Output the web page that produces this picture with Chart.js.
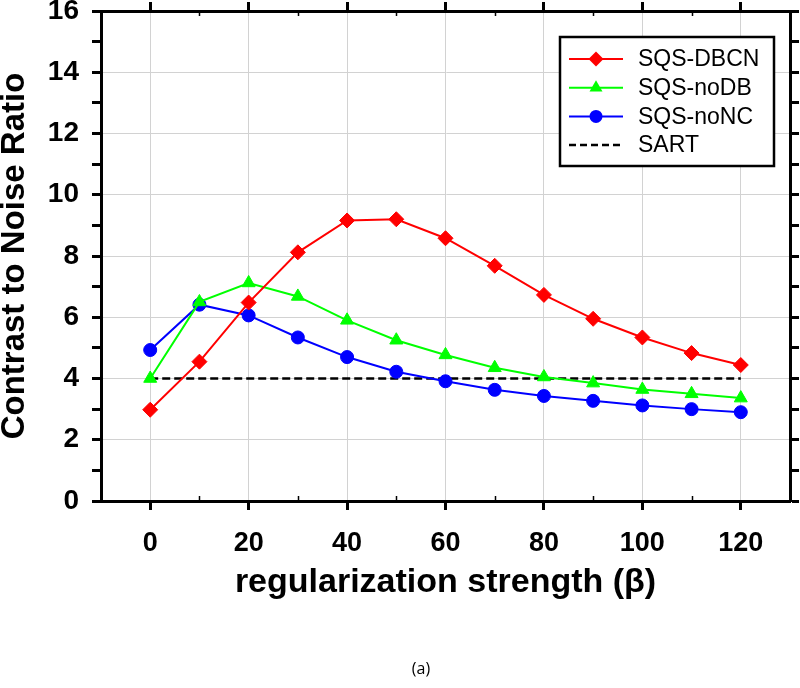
<!DOCTYPE html>
<html>
<head>
<meta charset="utf-8">
<script src="https://cdn.jsdelivr.net/npm/chart.js@4.4.0/dist/chart.umd.min.js"></script>
<style>
html, body { margin: 0; padding: 0; background: #fff; }
#wrap { position: relative; width: 800px; height: 688px; }
#cap { position: absolute; left: 0; width: 842px; top: 657px; text-align: center;
       font: 16px "Open Sans", "Liberation Sans", sans-serif; color: #000; line-height: 22px; }
</style>
</head>
<body>
<div id="wrap">
  <canvas id="c" width="800" height="688"></canvas>
  <div id="cap">(a)</div>
</div>
<script>
// ---- data ----
const betaValues = [0, 10, 20, 30, 40, 50, 60, 70, 80, 90, 100, 110, 120];
const cnrDBCN = [2.98, 4.55, 6.48, 8.12, 9.16, 9.20, 8.58, 7.68, 6.73, 5.95, 5.34, 4.83, 4.44];
const cnrNoDB = [4.00, 6.50, 7.12, 6.68, 5.90, 5.25, 4.77, 4.35, 4.05, 3.85, 3.64, 3.50, 3.36];
const cnrNoNC = [4.93, 6.41, 6.06, 5.34, 4.70, 4.22, 3.91, 3.63, 3.43, 3.27, 3.12, 3.00, 2.90];
const sartBeta = [0, 120];
const sartCnr = [4.0, 4.0];
const seriesLabels = ['SQS-DBCN', 'SQS-noDB', 'SQS-noNC', 'SART'];
const xTickValues = [0, 20, 40, 60, 80, 100, 120];
const xMinorTicks = [10, 30, 50, 70, 90, 110];
const xTitle = 'regularization strength (\u03B2)';
const yTitle = 'Contrast to Noise Ratio';

const toPts = (xs, ys) => xs.map((x, i) => ({ x: x, y: ys[i] }));

Chart.defaults.font.family = '"Liberation Sans", Arial, sans-serif';
Chart.defaults.color = '#000';

const GRID = '#d2d2d2';

const minorTickPlugin = {
  id: 'minorTicks',
  afterDraw(chart) {
    const { ctx, chartArea } = chart;
    const xs = chart.scales.x;
    ctx.save();
    ctx.strokeStyle = '#000';
    ctx.lineWidth = 1.5;
    xMinorTicks.forEach(v => {
      const px = Math.round(xs.getPixelForValue(v)) + 0.5;
      ctx.beginPath();
      ctx.moveTo(px, chartArea.bottom);
      ctx.lineTo(px, chartArea.bottom - 5);
      ctx.moveTo(px, chartArea.top);
      ctx.lineTo(px, chartArea.top + 5);
      ctx.stroke();
    });
    ctx.restore();
  }
};

function drawMarker(ctx, style, x, y, r, color) {
  ctx.beginPath();
  if (style === 'rectRot') {
    ctx.moveTo(x, y - r); ctx.lineTo(x + r, y); ctx.lineTo(x, y + r); ctx.lineTo(x - r, y);
  } else if (style === 'triangle') {
    ctx.moveTo(x, y - r);
    ctx.lineTo(x + r * 0.866, y + r * 0.5);
    ctx.lineTo(x - r * 0.866, y + r * 0.5);
  } else {
    ctx.arc(x, y, r, 0, Math.PI * 2);
  }
  ctx.closePath();
  ctx.fillStyle = color;
  ctx.fill();
}

const boxLegendPlugin = {
  id: 'boxLegend',
  afterDatasetsDraw(chart) {
    const { ctx, chartArea } = chart;
    const w = 214, h = 129;
    const x0 = chartArea.right - 230, y0 = chartArea.top + 26;
    ctx.save();
    ctx.fillStyle = '#fff';
    ctx.fillRect(x0, y0, w, h);
    ctx.lineWidth = 2.5;
    ctx.strokeStyle = '#000';
    ctx.strokeRect(x0, y0, w, h);
    chart.data.datasets.forEach((ds, i) => {
      const y = y0 + 22 + i * 28.7;
      ctx.setLineDash(ds.pointRadius > 0 ? [] : [7, 4]);
      ctx.strokeStyle = ds.borderColor;
      ctx.lineWidth = ds.borderWidth;
      ctx.beginPath();
      ctx.moveTo(x0 + 9, y);
      ctx.lineTo(x0 + 63, y);
      ctx.stroke();
      ctx.setLineDash([]);
      if (ds.pointRadius > 0) drawMarker(ctx, ds.pointStyle, x0 + 36, y, ds.pointRadius, ds.borderColor);
      ctx.fillStyle = '#000';
      ctx.font = '23px "Liberation Sans", Arial, sans-serif';
      ctx.textAlign = 'left';
      ctx.textBaseline = 'middle';
      ctx.fillText(ds.label, x0 + 78, y + 1);
    });
    ctx.restore();
  }
};

new Chart(document.getElementById('c'), {
  type: 'line',
  data: {
    datasets: [
      { label: seriesLabels[0], data: toPts(betaValues, cnrDBCN), borderColor: '#ff0000', backgroundColor: '#ff0000',
        borderWidth: 2, pointStyle: 'rectRot', pointRadius: 7.5, pointBorderWidth: 1, tension: 0 },
      { label: seriesLabels[1], data: toPts(betaValues, cnrNoDB), borderColor: '#00ff00', backgroundColor: '#00ff00',
        borderWidth: 2, pointStyle: 'triangle', pointRadius: 7.5, pointBorderWidth: 1, tension: 0 },
      { label: seriesLabels[2], data: toPts(betaValues, cnrNoNC), borderColor: '#0000ff', backgroundColor: '#0000ff',
        borderWidth: 2, pointStyle: 'circle', pointRadius: 6.5, pointBorderWidth: 1, tension: 0 },
      { label: seriesLabels[3], data: toPts(sartBeta, sartCnr), borderColor: '#000000', backgroundColor: '#000000',
        borderWidth: 2.5, borderDash: [8, 4], pointRadius: 0, tension: 0 }
    ]
  },
  options: {
    responsive: false,
    animation: false,
    events: [],
    layout: { padding: 0 },
    plugins: { legend: { display: false }, tooltip: { enabled: false } },
    scales: {
      x: {
        type: 'linear', position: 'bottom', min: -10, max: 130,
        afterBuildTicks: s => { s.ticks = xTickValues.map(v => ({ value: v })); },
        afterFit: s => { s.height = 187; s.paddingLeft = 0; s.paddingRight = 0; },
        ticks: { font: { size: 27, weight: 'bold' }, padding: 17, autoSkip: false, maxRotation: 0 },
        grid: { color: GRID, lineWidth: 1, tickColor: '#000', tickWidth: 3, tickLength: 9 },
        border: { display: true, color: '#000', width: 3 },
        title: { display: true, text: xTitle, font: { size: 34, weight: 'bold' }, padding: { top: 0, bottom: 85 } }
      },
      x2: {
        type: 'linear', position: 'top', min: -10, max: 130,
        afterBuildTicks: s => { s.ticks = xTickValues.map(v => ({ value: v })); },
        afterFit: s => { s.height = 11; s.paddingLeft = 0; s.paddingRight = 0; },
        ticks: { display: false },
        grid: { drawOnChartArea: false, tickColor: '#000', tickWidth: 3, tickLength: 9 },
        border: { display: true, color: '#000', width: 3 }
      },
      y: {
        type: 'linear', position: 'left', min: 0, max: 16,
        afterFit: s => { s.width = 101; s.paddingTop = 0; s.paddingBottom = 0; },
        ticks: { stepSize: 1, autoSkip: false, font: { size: 28, weight: 'bold' }, padding: 13,
                 callback: v => (v % 2 === 0 ? String(v) : '') },
        grid: { color: c => (c.tick && c.tick.value % 2 === 0 && c.tick.value > 0 && c.tick.value < 16) ? GRID : 'rgba(0,0,0,0)',
                lineWidth: 1, tickColor: '#000', tickWidth: 3, tickLength: 9 },
        border: { display: true, color: '#000', width: 3 },
        title: { display: true, text: yTitle, font: { size: 33, weight: 'bold', lineHeight: 0.8 }, padding: { top: 2, bottom: 0 } }
      },
      y2: {
        type: 'linear', position: 'right', min: 0, max: 16,
        afterFit: s => { s.width = 10; s.paddingTop = 0; s.paddingBottom = 0; },
        ticks: { display: false, stepSize: 1, autoSkip: false },
        grid: { drawOnChartArea: false, tickColor: '#000', tickWidth: 3, tickLength: 9 },
        border: { display: true, color: '#000', width: 3 }
      }
    }
  },
  plugins: [minorTickPlugin, boxLegendPlugin]
});
</script>
</body>
</html>
